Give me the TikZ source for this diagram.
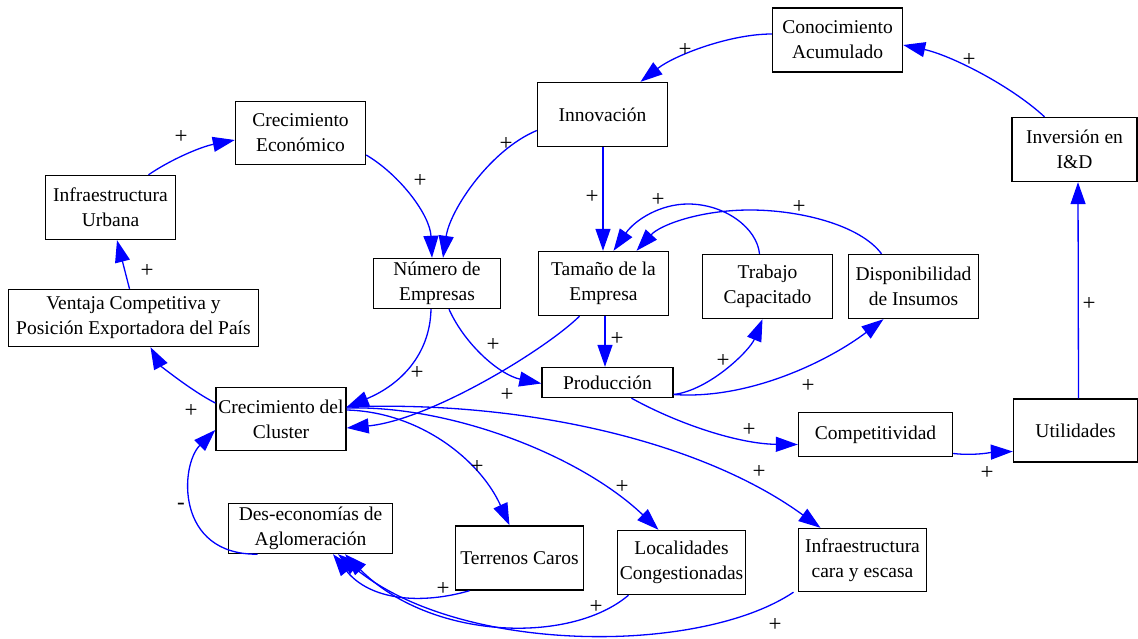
\documentclass[tikz,border=0pt]{standalone}
\usepackage{fontspec}
\setmainfont{Liberation Serif}
\usetikzlibrary{arrows.meta,calc}
\begin{document}
\begin{tikzpicture}[x=1pt,y=-1pt,
  box/.style={draw=black, line width=1.4pt, rectangle, align=center,
    inner sep=0pt, font=\fontsize{19.5}{25}\selectfont},
  link/.style={draw=blue, line width=1.3pt,
    -{Triangle[length=22pt,width=15pt]}},
  sign/.style={inner sep=0pt, font=\fontsize{23}{25}\selectfont}]

\fill[white] (0,0) rectangle (1138,639);
\useasboundingbox (0,0) rectangle (1138,639);

% variables of the causal loop diagram
\node[box, minimum width=130pt, minimum height=64pt] (cono) at (837.5,40) {Conocimiento\\Acumulado};
\node[box, minimum width=130pt, minimum height=64pt] (inno) at (602.5,114.5) {Innovación};
\node[box, minimum width=130pt, minimum height=63pt] (ceco) at (300.5,133) {Crecimiento\\Económico};
\node[box, minimum width=130pt, minimum height=64pt] (iurb) at (110.5,207.5) {Infraestructura\\Urbana};
\node[box, minimum width=125pt, minimum height=64pt] (iyd) at (1074.5,149.5) {Inversión en\\I\&D};
\node[box, minimum width=127pt, minimum height=50pt] (nemp) at (437,283.5) {Número de\\Empresas};
\node[box, minimum width=130pt, minimum height=64pt] (tam) at (603.5,283.5) {Tamaño de la\\Empresa};
\node[box, minimum width=130pt, minimum height=64pt] (trab) at (767.5,286.5) {Trabajo\\Capacitado};
\node[box, minimum width=130pt, minimum height=64pt] (disp) at (913.5,286.5) {Disponibilidad\\de Insumos};
\node[box, minimum width=250pt, minimum height=57pt] (vent) at (133.5,318) {Ventaja Competitiva y\\Posición Exportadora del País};
\node[box, minimum width=131pt, minimum height=30pt] (prod) at (607.5,382.5) {Producción};
\node[box, minimum width=130pt, minimum height=63pt] (clus) at (281,419) {Crecimiento del\\Cluster};
\node[box, minimum width=154pt, minimum height=44pt] (comp) at (875.5,434.5) {Competitividad};
\node[box, minimum width=124pt, minimum height=63pt] (util) at (1075.5,430.5) {Utilidades};
\node[box, minimum width=164pt, minimum height=50pt] (deso) at (310.5,528.5) {Des-economías de\\Aglomeración};
\node[box, minimum width=128pt, minimum height=64pt] (terr) at (519.5,558) {Terrenos Caros};
\node[box, minimum width=128pt, minimum height=64pt] (loca) at (681.5,562.5) {Localidades\\Congestionadas};
\node[box, minimum width=128pt, minimum height=63pt] (icar) at (862.5,560) {Infraestructura\\cara y escasa};

% causal links
\draw[link] ($(cono.west)+(0,-6)$) .. controls (730,34) and (675,55) .. ($(inno.north)+(38,0)$);
\draw[link] ($(iyd.north)+(-30,0)$) .. controls (1010,85) and (950,55) .. ($(cono.east)+(0,5)$);
\draw[link] ($(util.north)+(3,0)$) -- ($(iyd.south)+(3.5,0)$);
\draw[link] ($(comp.east)+(0,19)$) .. controls (975,456) and (995,452) .. ($(util.west)+(0,21)$);
\draw[link] ($(prod.south)+(24,0)$) .. controls (680,425) and (740,444) .. ($(comp.west)+(0,10)$);
\draw[link] ($(prod.east)+(0,12)$) .. controls (710,390) and (750,350) .. ($(trab.south)+(-5,0)$);
\draw[link] ($(prod.east)+(0,12)$) .. controls (750,400) and (830,360) .. ($(disp.south)+(-30,0)$);
\draw[link] ($(tam.south)+(1.5,0)$) -- ($(prod.north)+(-2.5,0)$);
\draw[link] ($(inno.south)+(0.5,0)$) -- ($(tam.north)+(-0.5,0)$);
\draw[link] ($(trab.north)+(-8,0)$) .. controls (757,228) and (725,204) .. (688,204)
  .. controls (660,204) and (635,220) .. ($(tam.north)+(10,0)$);
\draw[link] ($(disp.north)+(-32,0)$) .. controls (860,225) and (800,210) .. (750,210)
  .. controls (700,210) and (660,225) .. ($(tam.north)+(33,0)$);
\draw[link] ($(inno.west)+(0,16)$) .. controls (490,150) and (450,210) .. ($(nemp.north)+(6,0)$);
\draw[link] ($(ceco.east)+(0,22)$) .. controls (400,175) and (430,215) .. ($(nemp.north)+(-5,0)$);
\draw[link] ($(iurb.north)+(38,0)$) .. controls (170,160) and (200,147) .. ($(ceco.west)+(0,7)$);
\draw[link] ($(vent.north)+(-4,0)$) -- ($(iurb.south)+(6.5,0)$);
\draw[link] ($(clus.west)+(0,-16)$) .. controls (190,390) and (160,365) .. ($(vent.south)+(17,0)$);
\draw[link] ($(nemp.south)+(-6,0)$) .. controls (430,355) and (400,385) .. ($(clus.east)+(0,-12)$);
\draw[link] ($(nemp.south)+(12,0)$) .. controls (465,345) and (500,375) .. ($(prod.west)+(0,1)$);
\draw[link] ($(tam.south)+(-24,0)$) .. controls (545,350) and (430,420) .. ($(clus.east)+(0,9)$);
\draw[link] ($(clus.east)+(0,-9)$) .. controls (420,412) and (480,460) .. ($(terr.north)+(-10,0)$);
\draw[link] ($(clus.east)+(0,-11)$) .. controls (450,405) and (580,455) .. ($(loca.north)+(-23,0)$);
\draw[link] ($(clus.east)+(0,-12)$) .. controls (520,400) and (700,440) .. ($(icar.north)+(-42,0)$);
\draw[link] ($(deso.south)+(-53,0)$) .. controls (175,555) and (180,465) .. ($(clus.west)+(0,11)$);
\draw[link] ($(terr.south)+(-50,0)$) .. controls (420,605) and (370,600) .. ($(deso.south)+(22.5,0)$);
\draw[link] ($(loca.south)+(-53,0)$) .. controls (570,645) and (430,640) .. ($(deso.south)+(34.5,0)$);
\draw[link] ($(icar.south)+(-69,0)$) .. controls (700,655) and (460,655) .. ($(deso.south)+(27.5,0)$);

% polarity signs
\node[sign] (s1) at (685,50) {+};
\node[sign] (s2) at (969,60) {+};
\node[sign] (s3) at (1089,304) {+};
\node[sign] (s4) at (987,473) {+};
\node[sign] (s5) at (749,430) {+};
\node[sign] (s6) at (723,361) {+};
\node[sign] (s7) at (808,386) {+};
\node[sign] (s8) at (617,339) {+};
\node[sign] (s9) at (592,197) {+};
\node[sign] (s10) at (658,200) {+};
\node[sign] (s11) at (799,207) {+};
\node[sign] (s12) at (506,144) {+};
\node[sign] (s13) at (420,181) {+};
\node[sign] (s14) at (181,137) {+};
\node[sign] (s15) at (147,271) {+};
\node[sign] (s16) at (191,411) {+};
\node[sign] (s17) at (417,373) {+};
\node[sign] (s18) at (493,345) {+};
\node[sign] (s19) at (507,395) {+};
\node[sign] (s20) at (477,467) {+};
\node[sign] (s21) at (622,487) {+};
\node[sign] (s22) at (759,472) {+};
\node[sign] (s23) at (181,506) {-};
\node[sign] (s24) at (443,589) {+};
\node[sign] (s25) at (596,607) {+};
\node[sign] (s26) at (775,625) {+};
\end{tikzpicture}
\end{document}
